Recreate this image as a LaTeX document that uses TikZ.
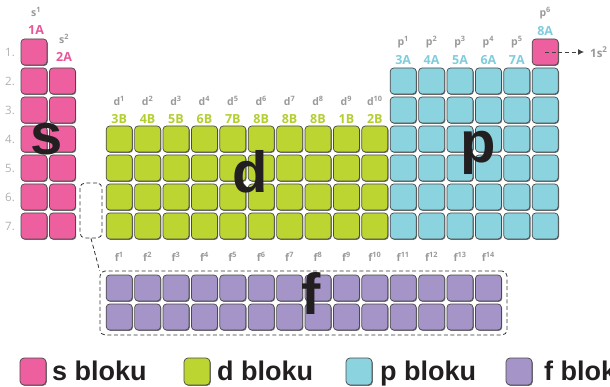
\documentclass[tikz,border=0pt]{standalone}
\usepackage{fontspec}
\setmainfont{Liberation Sans}
\newfontfamily\lblfont{Open Sans}
\usetikzlibrary{arrows.meta,shadows}

\definecolor{sblk}{HTML}{EE5FA0}
\definecolor{dblk}{HTML}{BCD531}
\definecolor{pblk}{HTML}{8CD3E0}
\definecolor{fblk}{HTML}{A594C8}
\definecolor{slbl}{HTML}{E8559A}
\definecolor{dlbl}{HTML}{B3CF2E}
\definecolor{plbl}{HTML}{7FCCDD}
\definecolor{celledge}{HTML}{4A4A4A}
\definecolor{suplbl}{HTML}{9A9A9A}
\definecolor{rowlbl}{HTML}{B0B0B0}
\definecolor{bigtxt}{HTML}{231F20}

\tikzset{
  cell/.style={draw=celledge, line width=0.7pt, rounded corners=3.5pt,
    minimum width=26pt, minimum height=26pt, inner sep=0pt, outer sep=0pt,
    drop shadow={shadow xshift=0.8pt, shadow yshift=-0.9pt, opacity=0.55, fill=black}},
  legbox/.style={cell, minimum width=26pt, minimum height=27pt, rounded corners=4pt},
  grp/.style={font=\lblfont\bfseries\fontsize{12.5}{14}\selectfont, inner sep=0pt},
  sup/.style={font=\lblfont\bfseries\fontsize{10.5}{12}\selectfont, text=suplbl, inner sep=0pt},
  rowno/.style={font=\lblfont\fontsize{11.5}{13}\selectfont, text=rowlbl, inner sep=0pt},
  big/.style={font=\bfseries\fontsize{58}{60}\selectfont, text=bigtxt, inner sep=0pt, anchor=base},
  legtext/.style={font=\bfseries\fontsize{27}{30}\selectfont, text=bigtxt, inner sep=0pt, anchor=base west},
  dashbox/.style={draw=black!80, line width=0.8pt, dash pattern=on 4pt off 2.6pt, rounded corners=5pt,
    inner sep=0pt},
  dashlink/.style={draw=black!80, line width=0.8pt, dash pattern=on 4pt off 2.6pt},
}

\begin{document}
\begin{tikzpicture}[x=1pt,y=-1pt]
\useasboundingbox (0,0) rectangle (610,387);
\clip (0,0) rectangle (610,387);

% period numbers
\foreach \r in {1,...,7}
  \node[rowno] (row\r) at (10,{52+29*(\r-1)}) {\r.};

% s block
\foreach \r in {1,...,7}
  \foreach \c in {0,1} {
    \ifnum\r=1 \ifnum\c=1 \else
      \node[cell, fill=sblk] (s-\r-\c) at ({34+28.4*\c},{52+29*(\r-1)}) {};
    \fi \else
      \node[cell, fill=sblk] (s-\r-\c) at ({34+28.4*\c},{52+29*(\r-1)}) {};
    \fi
  }

% d block
\foreach \r in {4,...,7}
  \foreach \c in {3,...,12}
    \node[cell, fill=dblk] (d-\r-\c) at ({34+28.4*\c},{52+29*(\r-1)}) {};

% p block
\foreach \r in {2,...,7}
  \foreach \c in {13,...,18}
    \node[cell, fill=pblk] (p-\r-\c) at ({34+28.4*\c},{52+29*(\r-1)}) {};

% helium
\node[cell, fill=sblk] (he) at ({34+28.4*18},52) {};

% f block
\foreach \r/\y in {1/288,2/317}
  \foreach \c in {3,...,16}
    \node[cell, fill=fblk] (f-\r-\c) at ({34+28.4*\c},\y) {};

% group headings
\node[sup] (s1) at (36,12) {s\textsuperscript{1}};
\node[grp, text=slbl] (g1A) at (36,30) {1A};
\node[sup] (s2) at (64,39) {s\textsuperscript{2}};
\node[grp, text=slbl] (g2A) at (64,57) {2A};

\foreach \k/\g [count=\i from 3] in {1/3B,2/4B,3/5B,4/6B,5/7B,6/8B,7/8B,8/8B,9/1B,10/2B} {
  \node[sup] (dsup\k) at ({34+28.4*\i},101) {d\textsuperscript{\k}};
  \node[grp, text=dlbl] (dg\k) at ({34+28.4*\i},119) {\g};
}

\foreach \k/\g [count=\i from 13] in {1/3A,2/4A,3/5A,4/6A,5/7A} {
  \node[sup] (psup\k) at ({34+28.4*\i},42) {p\textsuperscript{\k}};
  \node[grp, text=plbl] (pg\k) at ({34+28.4*\i},60) {\g};
}
\node[sup] (psup6) at ({34+28.4*18},13) {p\textsuperscript{6}};
\node[grp, text=plbl] (pg6) at ({34+28.4*18},31) {8A};

\foreach \k [count=\i from 3] in {1,...,14}
  \node[sup] (fsup\k) at ({34+28.4*\i},257) {f\textsuperscript{\k}};

% helium note
\coordinate (heend) at (584,52);
\node[sup, anchor=west, font=\lblfont\bfseries\fontsize{11.5}{13}\selectfont] (henote) at (590,52) {1s\textsuperscript{2}};
\draw[dashlink, black!75, -{Latex[length=6pt,width=6pt]}] (he.center) -- (heend);

% lanthanide / actinide place holder and f block frame
\node[dashbox, minimum width=22pt, minimum height=55pt] (gap) at (91,210.5) {};
\node[dashbox, minimum width=407pt, minimum height=64pt] (fbox) at (303.5,303) {};
\draw[dashlink] (gap.south) -- (fbox.north west);

% block letters
\node[big] (bigs) at (47,155) {s};
\node[big] (bigd) at (250,193) {d};
\node[big] (bigp) at (478,163) {p};
\node[big] (bigf) at (311,314) {f};

% legend
\node[legbox, fill=sblk] (ls) at (33,371.5) {};
\node[legtext] (lts) at (52,380) {s bloku};
\node[legbox, fill=dblk] (ld) at (197,371.5) {};
\node[legtext] (ltd) at (217,380) {d bloku};
\node[legbox, fill=pblk] (lp) at (359,371.5) {};
\node[legtext] (ltp) at (380,380) {p bloku};
\node[legbox, fill=fblk] (lf) at (519,371.5) {};
\node[legtext] (ltf) at (544,380) {f bloku};
\end{tikzpicture}
\end{document}
